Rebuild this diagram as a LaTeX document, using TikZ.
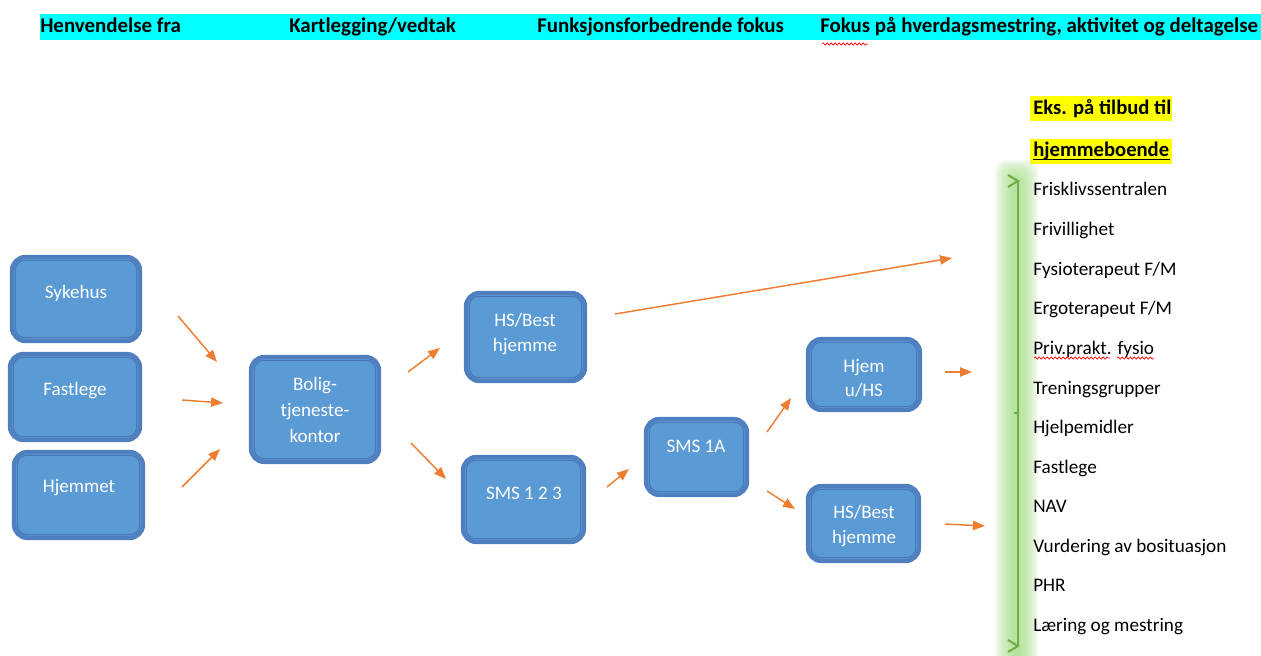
\documentclass[tikz,border=0pt]{standalone}
\usepackage{fontspec}
\setmainfont{Carlito}
\usetikzlibrary{arrows.meta,fit,decorations.pathmorphing}
\definecolor{boxfill}{HTML}{5B9BD5}
\definecolor{boxedge}{HTML}{4F7FBE}
\definecolor{boxinner}{HTML}{4A78B5}
\definecolor{arr}{HTML}{ED7D31}
\definecolor{band}{HTML}{00FFFF}
\definecolor{hl}{HTML}{FFFF00}
\definecolor{brace}{HTML}{70AD47}
\definecolor{glow}{HTML}{9BD97A}
\begin{document}
\begin{tikzpicture}[x=0.75pt,y=-0.75pt,
  box/.style={draw=boxedge,line width=3.2pt,fill=boxfill,rounded corners=10pt,inner sep=0pt},
  inner/.style={draw=boxinner,line width=0.8pt,rounded corners=7pt},
  btxt/.style={text=white,font=\fontsize{14.3}{19.5}\selectfont,align=center,inner sep=0pt},
  arrow/.style={draw=arr,line width=1.1pt,-{Triangle[length=9pt,width=7pt]}},
  hdr/.style={font=\bfseries\fontsize{15.7}{18}\selectfont,anchor=base west,inner sep=0pt},
  item/.style={font=\fontsize{14.4}{17}\selectfont,anchor=base west,inner sep=0pt},
  ttl/.style={font=\bfseries\fontsize{15.5}{18}\selectfont,anchor=base west,inner sep=0pt},
  squig/.style={draw=red,line width=0.5pt,decorate,decoration={snake,amplitude=0.9pt,segment length=3pt}},
  bracestyle/.style={draw=brace,line width=1.5pt}]
\useasboundingbox (0,0) rectangle (1261,656);

% header band
\fill[band] (40,14) rectangle (1261,40);
\node[hdr] (h1) at (40,33) {Henvendelse fra};
\node[hdr] (h2) at (289,33) {Kartlegging/vedtak};
\node[hdr] (h3) at (537,33) {Funksjonsforbedrende fokus};
\node[hdr] (h4) at (820,33) {Fokus på hverdagsmestring, aktivitet og deltagelse};
\path[squig] (822,44) -- (868,44);

% boxes
\node[box,fit={(12,257) (140,341)}] (syk) {};
\node[box,fit={(10,354) (140,440)}] (fas) {};
\node[box,fit={(14,452) (143,538)}] (hje) {};
\node[box,fit={(251,357) (379,462)}] (bol) {};
\node[box,fit={(466,293) (585,381)}] (hsa) {};
\node[box,fit={(463,457) (584,542)}] (sms) {};
\node[box,fit={(646,419) (747,495)}] (sa) {};
\node[box,fit={(808,339) (920,410)}] (hju) {};
\node[box,fit={(808,486) (919,561)}] (hsb) {};
\foreach \n in {syk,fas,hje,bol,hsa,sms,sa,hju,hsb}
  \draw[inner] ([shift={(5.5,5.5)}]\n.north west) rectangle ([shift={(-5.5,-5.5)}]\n.south east);

\node[btxt] (sykT) at (76,293) {Sykehus};
\node[btxt] (fasT) at (75,391) {Fastlege};
\node[btxt] (hjeT) at (79,488) {Hjemmet};
\node[btxt] (bolT) at (315,410) {Bolig-\\tjeneste-\\kontor};
\node[btxt,font=\fontsize{14.3}{18.75}\selectfont] (hsaT) at (525,334.5) {HS/Best\\hjemme};
\node[btxt] (smsT) at (524,493) {SMS 1 2 3};
\node[btxt] (saT) at (696,446) {SMS 1A};
\node[btxt,font=\fontsize{14.3}{18}\selectfont] (hjuT) at (864,378) {Hjem\\u/HS};
\node[btxt,font=\fontsize{14.3}{18.75}\selectfont] (hsbT) at (864,526.5) {HS/Best\\hjemme};

% arrows
\coordinate (a1s) at (178,316); \coordinate (a1e) at (217,362);
\coordinate (a2s) at (182,400); \coordinate (a2e) at (223,403);
\coordinate (a3s) at (182,487); \coordinate (a3e) at (220,449);
\coordinate (a4s) at (408,372); \coordinate (a4e) at (440,348);
\coordinate (a5s) at (411,443); \coordinate (a5e) at (446,479);
\coordinate (a6s) at (607,487); \coordinate (a6e) at (629,469);
\coordinate (a7s) at (615,314); \coordinate (a7e) at (952,258);
\coordinate (a8s) at (767,432); \coordinate (a8e) at (791,398);
\coordinate (a9s) at (767,491); \coordinate (a9e) at (795,509);
\coordinate (a10s) at (945,372); \coordinate (a10e) at (972,372);
\coordinate (a11s) at (945,524); \coordinate (a11e) at (985,526);
\foreach \i in {1,...,11} \draw[arrow] (a\i s) -- (a\i e);

% glow and brace
\foreach \i in {0,...,9}
  \fill[glow,opacity=0.12,rounded corners=8pt] (995+2*\i,160+2*\i) rectangle (1038-2*\i,680);
\coordinate (bt) at (1018,181);
\coordinate (bb) at (1018,646);
\draw[bracestyle] (bt) -- (bb);
\draw[bracestyle] (1008,175) -- (bt) -- (1008,187);
\draw[bracestyle] (1008,640) -- (bb) -- (1008,652);
\draw[bracestyle] (1014,413) -- (1018,413);

% list
\fill[hl] (1030,96) rectangle (1172,121);
\fill[hl] (1030,139) rectangle (1172,164);
\node[ttl] (t1) at (1033,115) {Eks. på tilbud til};
\node[ttl] (t2) at (1033,157) {hjemmeboende};
\draw[line width=1pt] ([yshift=-2pt]t2.base west) -- ([yshift=-2pt]t2.base east);
\node[item] (i1) at (1033,196) {Frisklivssentralen};
\node[item] (i2) at (1033,236) {Frivillighet};
\node[item] (i3) at (1033,276) {Fysioterapeut F/M};
\node[item] (i4) at (1033,315) {Ergoterapeut F/M};
\node[item] (i5) at (1033,354) {Priv.prakt. fysio};
\node[item] (i6) at (1033,394) {Treningsgrupper};
\node[item] (i7) at (1033,433) {Hjelpemidler};
\node[item] (i8) at (1033,473) {Fastlege};
\node[item] (i9) at (1033,512) {NAV};
\node[item] (i10) at (1033,552) {Vurdering av bosituasjon};
\node[item] (i11) at (1033,591) {PHR};
\node[item] (i12) at (1033,631) {Læring og mestring};
\path[squig] (1034,358) -- (1110,358);
\path[squig] (1117,358) -- (1154,358);
\end{tikzpicture}
\end{document}
